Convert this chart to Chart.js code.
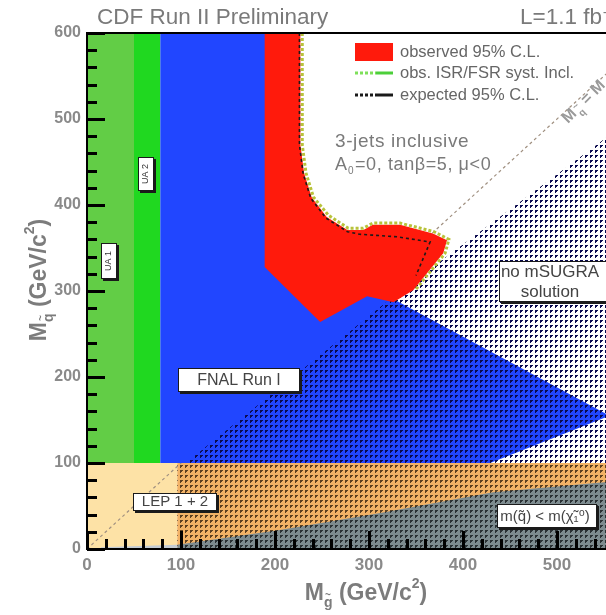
<!DOCTYPE html>
<html>
<head>
<meta charset="utf-8">
<script src="https://cdn.jsdelivr.net/npm/chart.js@4.4.0/dist/chart.umd.min.js"></script>
<style>
html, body { margin: 0; padding: 0; background: #fff; overflow: hidden; width: 606px; height: 615px; }
canvas { position: absolute; left: 0; top: 0; }
</style>
</head>
<body>
<canvas id="cdf" width="700" height="615"></canvas>
<script>
// axis range (GeV/c^2)
var massMin = 0;
var massMax = 600;
var massStep = 100;
var minorStep = 20;

// regions, vertices as [M_gluino, M_squark]
var ua1Excl  = [[0,100],[50,100],[50,600],[0,600]];
var ua2Excl  = [[50,100],[78,100],[78,600],[50,600]];
var lepExcl  = [[0,0],[96,0],[96,100],[0,100]];
var lepBand  = [[96,0],[600,0],[600,100],[96,100]];
var lepFloor = [[15,0],[96,0],[96,5],[15,2]];
var lspExcl  = [[96,0],[96,5],[205,22],[312,42],[432,66],[544,77],[600,82],[600,0]];
var noSugra  = [[105,100],[322,290],[378,336],[545,472],[600,518],[600,100]];
var runOne   = [[78,100],[78,600],[200,600],[200,340],[260,280],[310,300],[556,155],[429,100]];
var observed = [[189,600],[227,600],[227,470],[231,437],[239,409],[255,386],[277,371],[294,371],[304,377],[333,377],[368,367],[383,359],[379,344],[347,301],[326,287],[298,294],[248,264],[189,328]];

// limit curves
var obsSyst  = [[229,600],[229,470],[233,437],[241,409],[257,388],[278,373],[294,373],[304,379],[333,379],[369,369],[385,360],[381,344],[350,302]];
var expected = [[226,600],[226,470],[230,436],[238,408],[254,385],[277,369],[290,366],[330,363],[365,357],[350,318]];
var diagonal = [[0,0],[600,600]];

function toXY(p) { return { x: p[0], y: p[1] }; }

function dots(bg, fg) {
  var c = document.createElement('canvas');
  c.width = 5; c.height = 5;
  var g = c.getContext('2d');
  if (bg) { g.fillStyle = bg; g.fillRect(0, 0, 5, 5); }
  g.fillStyle = fg;
  g.fillRect(0, 0, 3, 1);
  g.fillRect(0, 1, 2, 1);
  g.fillRect(0, 2, 1, 1);
  return g.createPattern(c, 'repeat');
}

function area(label, verts, style) {
  return {
    label: label,
    data: verts.concat([verts[0]]).map(toXY),
    fill: 'shape',
    backgroundColor: style,
    borderColor: 'transparent',
    borderWidth: 0,
    pointRadius: 0,
    tension: 0
  };
}

function curve(label, verts, color, width, dash) {
  return {
    label: label,
    data: verts.map(toXY),
    fill: false,
    borderColor: color,
    borderWidth: width,
    borderDash: dash,
    pointRadius: 0,
    tension: 0
  };
}

// listed bottom to top
var layers = [
  area('no mSUGRA solution', noSugra, dots('#ffffff', '#3c3c3c')),
  area('LEP 1+2', lepExcl, '#fde2a6'),
  area('LEP 1+2 band', lepBand, dots('#f2b266', '#5e4020')),
  area('m(sq) < m(chi)', lspExcl, dots('#7d8b8f', '#2a3134')),
  area('LEP floor', lepFloor, '#c4ccd4'),
  curve('Mq = Mg', diagonal, '#a09080', 1.2, [3, 3]),
  area('UA1', ua1Excl, '#62cd46'),
  area('UA2', ua2Excl, '#20d820'),
  area('FNAL Run I', runOne, '#2146ff'),
  area('no mSUGRA overlay', noSugra, dots(null, '#0a0a50')),
  area('observed 95% C.L.', observed, '#ff1a0c'),
  curve('obs. ISR/FSR syst. Incl.', obsSyst, '#b8c23a', 3, [3, 2]),
  curve('expected 95% C.L.', expected, '#1a1a1a', 1.6, [3, 3])
];
layers.forEach(function (d, i) { d.order = 100 - i; });

var FONT = '"Liberation Sans", "DejaVu Sans", sans-serif';

function pave(ctx, x, y, w, h) {
  ctx.fillStyle = '#1a1a1a';
  ctx.fillRect(x + 2, y + 2, w, h);
  ctx.fillStyle = '#ffffff';
  ctx.fillRect(x, y, w, h);
  ctx.strokeStyle = '#1a1a1a';
  ctx.lineWidth = 1;
  ctx.strokeRect(x + 0.5, y + 0.5, w - 1, h - 1);
}

function massTitle(ctx, cx, cy, angle, sub) {
  var big = 'bold 23px ' + FONT, small = 'bold 14px ' + FONT;
  var parts = [['M', big, 0], [sub, small, 7], [' (GeV/c', big, 0], ['2', small, -12], [')', big, 0]];
  var total = 0;
  parts.forEach(function (p) { ctx.font = p[1]; p.push(ctx.measureText(p[0]).width); total += p[3]; });
  ctx.save();
  ctx.translate(cx, cy);
  ctx.rotate(angle);
  ctx.fillStyle = '#7c7c7c';
  ctx.textBaseline = 'alphabetic';
  ctx.textAlign = 'left';
  var x = -total / 2;
  parts.forEach(function (p, i) {
    ctx.font = p[1];
    ctx.fillText(p[0], x, 8 + p[2]);
    if (i === 1) {
      ctx.font = 'bold 10px ' + FONT;
      ctx.fillText('~', x + 1, 6);
    }
    x += p[3];
  });
  ctx.restore();
}

// pixel along an axis; falls back to the chart area span if the scale gives no number
function axisPixel(scale, v, lo, hi) {
  var p = scale.getPixelForValue(v);
  if (!isFinite(p)) p = lo + (v - massMin) / (massMax - massMin) * (hi - lo);
  return Math.round(p);
}

function drawTicks(chart) {
  var ctx = chart.ctx, a = chart.chartArea;
  var sx = chart.scales.x, sy = chart.scales.y;
  var n = Math.round((massMax - massMin) / minorStep);
  ctx.save();
  ctx.globalAlpha = 1;
  ctx.globalCompositeOperation = 'source-over';
  ctx.fillStyle = '#000000';
  for (var i = 0; i <= n; i++) {
    var m = massMin + i * minorStep;
    var len = (m % massStep === 0) ? 18 : 10;
    var py = axisPixel(sy, m, a.bottom, a.top);
    var px = axisPixel(sx, m, a.left, a.right);
    ctx.fillRect(a.left, py - 1, len, 3);
    ctx.fillRect(px - 1, a.bottom - len, 3, len);
  }
  ctx.fillRect(a.left - 1, a.top - 1, a.right - a.left + 2, 2);
  ctx.fillRect(a.left - 1, a.top - 1, 2, a.bottom - a.top + 2);
  ctx.fillRect(a.left - 1, a.bottom - 1, a.right - a.left + 2, 2);
  ctx.restore();
}

var cdfDecor = {
  id: 'cdfDecor',
  afterDraw: function (chart) {
    var ctx = chart.ctx;
    ctx.save();
    ctx.setLineDash([]);

    // labelled boxes
    pave(ctx, 101, 243, 16, 36);
    pave(ctx, 138, 157, 16, 34);
    ctx.fillStyle = '#333';
    ctx.font = '9px ' + FONT;
    ctx.textAlign = 'center';
    ctx.textBaseline = 'middle';
    [[109, 261, 'UA 1'], [146, 174, 'UA 2']].forEach(function (t) {
      ctx.save(); ctx.translate(t[0], t[1]); ctx.rotate(-Math.PI / 2);
      ctx.fillText(t[2], 0, 0); ctx.restore();
    });

    pave(ctx, 178, 368, 122, 24);
    pave(ctx, 133, 493, 84, 18);
    pave(ctx, 499, 261, 120, 41);
    pave(ctx, 497, 504, 100, 24);
    ctx.fillStyle = '#444';
    ctx.font = '16px ' + FONT;
    ctx.fillText('FNAL Run I', 239, 381);
    ctx.font = '15px ' + FONT;
    ctx.fillText('LEP 1 + 2', 175, 502);
    ctx.font = '17px ' + FONT;
    ctx.fillText('no mSUGRA', 550, 272);
    ctx.fillText('solution', 550, 292);
    ctx.font = '15px ' + FONT;
    ctx.fillText('m(q\u0303) < m(\u03c7\u0303\u2081\u2070)', 545, 517);

    // physics text
    ctx.fillStyle = '#7a7a7a';
    ctx.textAlign = 'left';
    ctx.textBaseline = 'alphabetic';
    ctx.letterSpacing = '0.6px';
    ctx.font = '19px ' + FONT;
    ctx.fillText('3-jets inclusive', 335, 147);
    ctx.font = '18px ' + FONT;
    ctx.fillText('A', 335, 170);
    ctx.font = '10px ' + FONT;
    ctx.fillText('0', 348, 174);
    ctx.font = '18px ' + FONT;
    ctx.fillText('=0, tan\u03b2=5, \u03bc<0', 355, 170);
    ctx.letterSpacing = '0px';

    // diagonal label
    ctx.save();
    ctx.translate(568, 124);
    ctx.rotate(-Math.PI / 4);
    ctx.fillStyle = '#9a9a9a';
    ctx.font = 'bold 16px ' + FONT;
    ctx.fillText('M', 0, 0);
    ctx.font = 'bold 10px ' + FONT;
    ctx.fillText('q', 15, 5);
    ctx.fillText('~', 15, -4);
    ctx.font = 'bold 16px ' + FONT;
    ctx.fillText(' = M', 22, 0);
    ctx.restore();

    // legend
    ctx.fillStyle = '#ff1a0c';
    ctx.fillRect(355, 43, 38, 18);
    ctx.lineWidth = 3;
    ctx.setLineDash([3, 2]);
    ctx.strokeStyle = '#7ee05a';
    ctx.beginPath(); ctx.moveTo(355, 73); ctx.lineTo(376, 73); ctx.stroke();
    ctx.strokeStyle = '#1a1a1a';
    ctx.beginPath(); ctx.moveTo(355, 95); ctx.lineTo(376, 95); ctx.stroke();
    ctx.setLineDash([]);
    ctx.strokeStyle = '#4ccf3a';
    ctx.beginPath(); ctx.moveTo(376, 73); ctx.lineTo(393, 73); ctx.stroke();
    ctx.strokeStyle = '#1a1a1a';
    ctx.beginPath(); ctx.moveTo(376, 95); ctx.lineTo(393, 95); ctx.stroke();
    ctx.fillStyle = '#666';
    ctx.font = '16.5px ' + FONT;
    ctx.textBaseline = 'middle';
    ctx.fillText('observed 95% C.L.', 400, 52);
    ctx.fillText('obs. ISR/FSR syst. Incl.', 400, 73);
    ctx.fillText('expected 95% C.L.', 400, 95);

    // header
    ctx.fillStyle = '#7a7a7a';
    ctx.font = '22.5px ' + FONT;
    ctx.textBaseline = 'alphabetic';
    ctx.fillText('CDF Run II Preliminary', 97, 24);
    ctx.fillText('L=1.1 fb\u207b\u00b9', 520, 24);

    // axis titles
    massTitle(ctx, 366, 592, 0, 'g');
    massTitle(ctx, 38, 280, -Math.PI / 2, 'q');

    ctx.restore();
    drawTicks(chart);
  }
};

new Chart(document.getElementById('cdf').getContext('2d'), {
  type: 'line',
  data: { datasets: layers },
  options: {
    responsive: false,
    animation: false,
    events: [],
    layout: { padding: { left: 0, right: 49, top: 33, bottom: 0 } },
    plugins: {
      legend: { display: false },
      tooltip: { enabled: false },
      title: { display: false }
    },
    scales: {
      x: {
        type: 'linear',
        min: massMin,
        max: massMax,
        grid: { display: false, drawTicks: false },
        border: { display: false },
        ticks: { stepSize: massStep, padding: 6, color: '#8a8a8a', font: { family: FONT, size: 17, weight: 'bold' } },
        afterFit: function (s) { s.height = 66; }
      },
      y: {
        type: 'linear',
        min: massMin,
        max: massMax,
        grid: { display: false, drawTicks: false },
        border: { display: false },
        ticks: { stepSize: massStep, padding: 6, color: '#8a8a8a', font: { family: FONT, size: 16, weight: 'bold' } },
        afterFit: function (s) { s.width = 87; }
      }
    }
  },
  plugins: [cdfDecor]
});
</script>
</body>
</html>
